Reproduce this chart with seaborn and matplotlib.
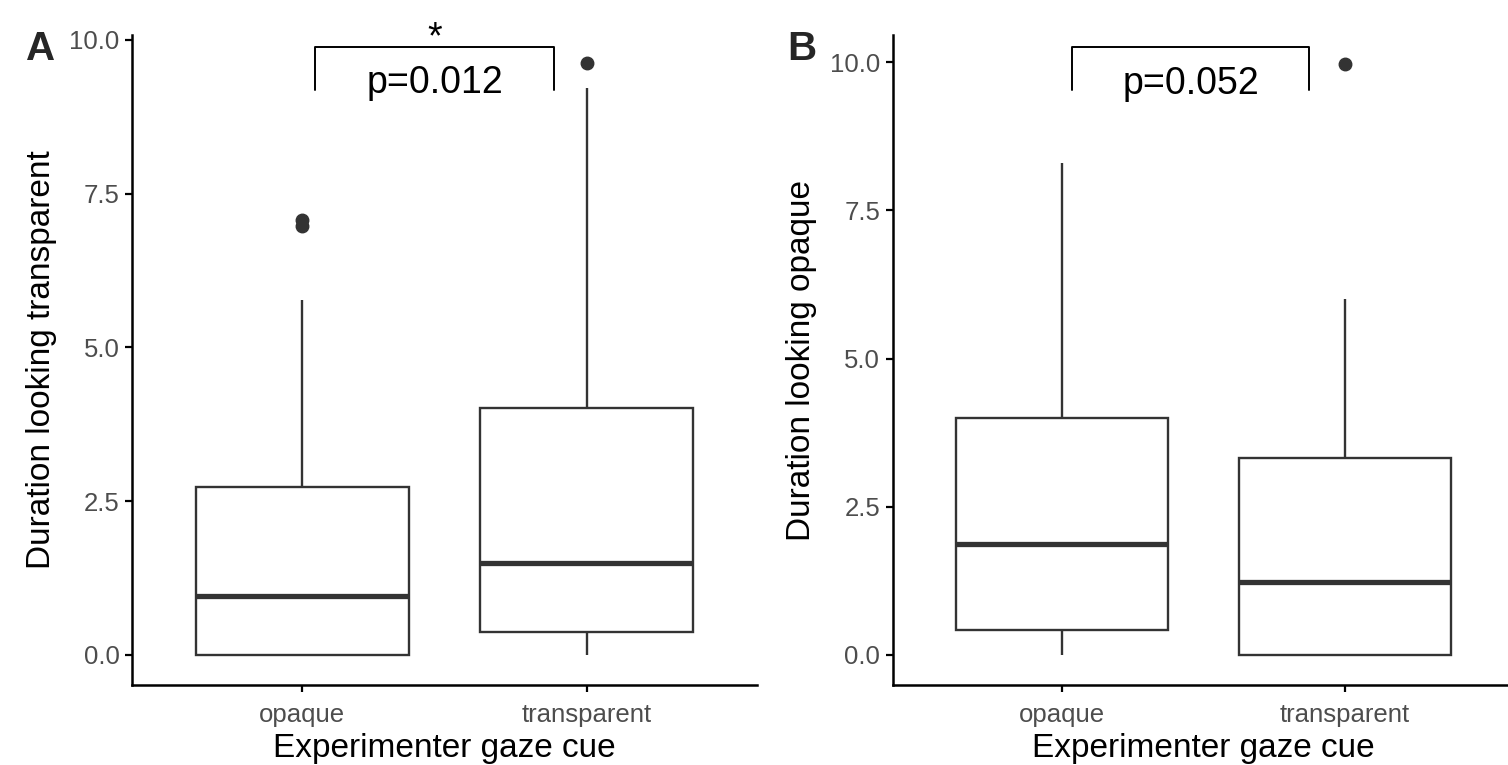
import seaborn as sns
import matplotlib.pyplot as plt
import pandas as pd

# values chosen so the box stats match the figure (q1 / median / q3 / whiskers / outliers)
cues = ["opaque", "transparent"]
look_transparent_opaque = [0, 0, 0, 0, 0.30, 0.60, 0.96, 1.50, 2.20, 2.73, 5.77, 6.97, 7.08]
look_transparent_transp = [0, 0.10, 0.20, 0.37, 0.80, 1.20, 1.50, 2.50, 3.30, 4.02, 6.00, 9.22, 9.63]
look_opaque_opaque = [0, 0.10, 0.30, 0.42, 0.90, 1.40, 1.87, 2.60, 3.40, 4.00, 5.50, 7.00, 8.30]
look_opaque_transp = [0, 0, 0, 0, 0.40, 0.80, 1.23, 2.00, 2.80, 3.32, 4.50, 6.00, 9.97]

p_values = ["p=0.012", "p=0.052"]
stars = ["*", ""]
ylabels = ["Duration looking transparent", "Duration looking opaque"]
panel_tags = ["A", "B"]


def long_df(a, b):
    return pd.DataFrame({
        "cue": [cues[0]] * len(a) + [cues[1]] * len(b),
        "duration": a + b,
    })


dfA = long_df(look_transparent_opaque, look_transparent_transp)
dfB = long_df(look_opaque_opaque, look_opaque_transp)

sns.set_theme(style="ticks")
plt.rcParams['font.family'] = ['Liberation Sans', 'DejaVu Sans']

fig = plt.figure(figsize=(15.08, 7.65), dpi=100)
axA = fig.add_axes([0.0875, 0.1046, 0.4145, 0.8496])
axB = fig.add_axes([0.592, 0.1046, 0.4125, 0.8496])

line_col = "#333333"


def draw_panel(ax, df, ylim, ylabel, bracket, ptext_y, star_y, ptext, star, tag):
    sns.boxplot(data=df, x="cue", y="duration", order=cues, ax=ax,
                color="white", linecolor=line_col, linewidth=1.7, width=0.75,
                fliersize=9, showcaps=False,
                medianprops=dict(linewidth=3.8, color=line_col),
                flierprops=dict(marker="o", markerfacecolor=line_col,
                                markeredgecolor=line_col))
    ax.set_xlim(-0.6, 1.6)
    ax.set_ylim(*ylim)
    ax.set_yticks([0, 2.5, 5.0, 7.5, 10.0])
    ax.set_yticklabels(["0.0", "2.5", "5.0", "7.5", "10.0"])
    for s in ["top", "right"]:
        ax.spines[s].set_visible(False)
    for s in ["left", "bottom"]:
        ax.spines[s].set_linewidth(1.8)
        ax.spines[s].set_color("black")
    ax.tick_params(axis="both", length=5, width=1.6, color="black",
                   labelsize=18.5, labelcolor="#4D4D4D")
    ax.tick_params(axis="x", pad=8)
    ax.tick_params(axis="y", pad=4)
    ax.set_xlabel("Experimenter gaze cue", fontsize=24, color="black", labelpad=4)
    ax.set_ylabel(ylabel, fontsize=24, color="black", labelpad=9)

    x0, x1, ytop, yleg = bracket
    ax.plot([x0, x0, x1, x1], [yleg, ytop, ytop, yleg], color="black", lw=1.4,
            clip_on=False)
    ax.text((x0 + x1) / 2, ptext_y, ptext, ha="center", va="baseline",
            fontsize=27, color="black")
    if star:
        ax.text((x0 + x1) / 2, star_y, star, ha="center", va="baseline",
                fontsize=27, color="black", clip_on=False)
    ax.text(-0.17, 1.008, tag, transform=ax.transAxes, fontsize=29, fontweight="bold",
            ha="left", va="top")


draw_panel(axA, dfA, (-0.49, 10.08), ylabels[0], (0.046, 0.884, 9.89, 9.19),
           9.13, 9.86, p_values[0], stars[0], panel_tags[0])
draw_panel(axB, dfB, (-0.506, 10.46), ylabels[1], (0.035, 0.873, 10.25, 9.53),
           9.47, 10.0, p_values[1], stars[1], panel_tags[1])

fig.savefig("out.png", dpi=100)
